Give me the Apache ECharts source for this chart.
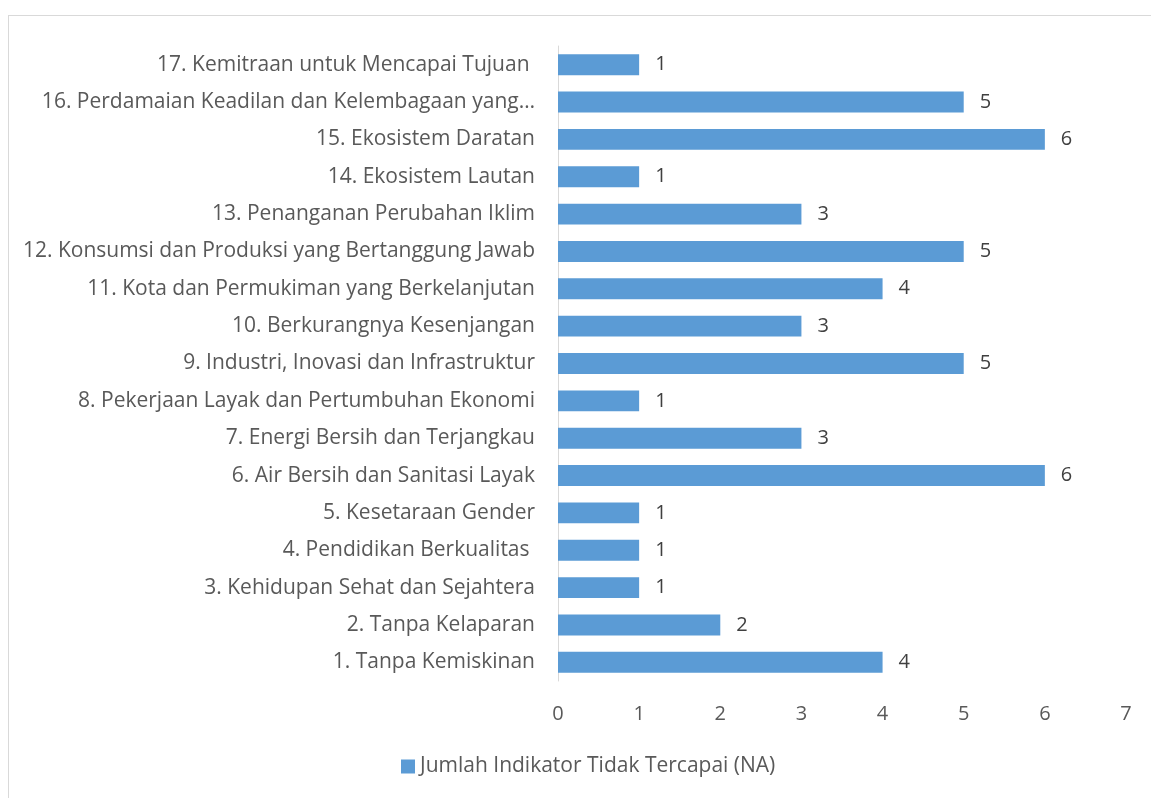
<!DOCTYPE html>
<html>
<head>
<meta charset="utf-8">
<script src="https://cdn.jsdelivr.net/npm/echarts@6/dist/echarts.min.js"></script>
<style>
  html, body { margin: 0; padding: 0; background: #fff; }
  .frame {
    position: absolute; left: 8px; top: 15px; width: 1160px; height: 800px;
    border: 1px solid #d9d9d9; box-sizing: border-box;
  }
  #chart { position: absolute; left: 0; top: 0; width: 1151px; height: 798px; }
</style>
</head>
<body>
<div class="frame"></div>
<div id="chart"></div>
<script>
const categories = [
  '1. Tanpa Kemiskinan',
  '2. Tanpa Kelaparan',
  '3. Kehidupan Sehat dan Sejahtera',
  '4. Pendidikan Berkualitas ',
  '5. Kesetaraan Gender',
  '6. Air Bersih dan Sanitasi Layak',
  '7. Energi Bersih dan Terjangkau',
  '8. Pekerjaan Layak dan Pertumbuhan Ekonomi',
  '9. Industri, Inovasi dan Infrastruktur',
  '10. Berkurangnya Kesenjangan',
  '11. Kota dan Permukiman yang Berkelanjutan',
  '12. Konsumsi dan Produksi yang Bertanggung Jawab',
  '13. Penanganan Perubahan Iklim',
  '14. Ekosistem Lautan',
  '15. Ekosistem Daratan',
  '16. Perdamaian Keadilan dan Kelembagaan yang…',
  '17. Kemitraan untuk Mencapai Tujuan '
]
const values = [4, 2, 1, 1, 1, 6, 3, 1, 5, 3, 4, 5, 3, 1, 6, 5, 1]
const seriesName = 'Jumlah Indikator Tidak Tercapai (NA)'

const font = 'Open Sans, Noto Sans, sans-serif'
const textColor = '#595959'

const chart = echarts.init(document.getElementById('chart'))
chart.setOption({
  animation: false,
  grid: { left: 558, right: 25, top: 46, bottom: 117, containLabel: false },
  legend: {
    bottom: 16,
    left: 396,
    itemWidth: 14,
    itemHeight: 14,
    itemGap: 6,
    icon: 'rect',
    textStyle: { color: textColor, fontSize: 21, fontFamily: font },
    data: [seriesName]
  },
  xAxis: {
    type: 'value',
    min: 0,
    max: 7,
    interval: 1,
    axisLine: { show: false },
    axisTick: { show: false },
    splitLine: { show: false },
    axisLabel: { color: textColor, fontSize: 20, fontFamily: font, margin: 23 }
  },
  yAxis: {
    type: 'category',
    data: categories,
    axisLine: { show: true, lineStyle: { color: '#d9d9d9', width: 1 } },
    axisTick: { show: false },
    axisLabel: { color: textColor, fontSize: 21, fontFamily: font, margin: 23 }
  },
  series: [
    {
      name: seriesName,
      type: 'bar',
      data: values,
      barWidth: '56%',
      itemStyle: { color: '#5b9bd5' },
      label: {
        show: true,
        position: 'right',
        distance: 16,
        color: '#404040',
        fontSize: 20,
        fontFamily: font
      }
    }
  ]
})
</script>
</body>
</html>
